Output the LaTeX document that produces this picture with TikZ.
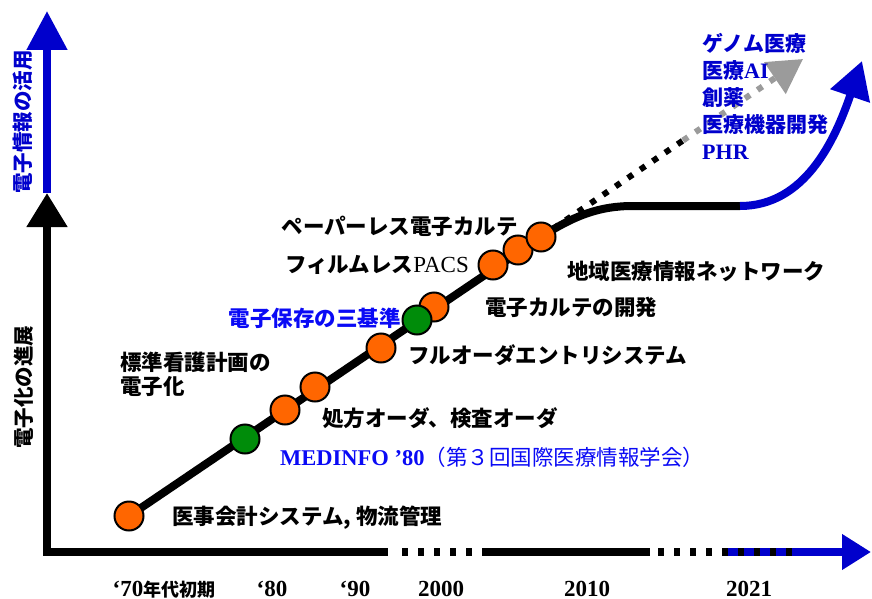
\documentclass[tikz,border=0pt]{standalone}
\usepackage{fontspec}
\setmainfont{Liberation Serif}
\newfontfamily\jp{Noto Sans CJK JP}
\usetikzlibrary{arrows.meta}
\definecolor{evorange}{HTML}{FF6600}
\definecolor{evgreen}{HTML}{008C0A}
\definecolor{axblue}{HTML}{0000CC}
\definecolor{lbblue}{HTML}{0A0AF5}
\definecolor{dotgray}{HTML}{9B9B9B}
\newcommand{\lblsize}{\fontsize{21.5}{24}\selectfont}
\begin{document}
\begin{tikzpicture}[x=1pt,y=-1pt,
  evt/.style={circle,draw=black,line width=2pt,fill=evorange,minimum size=29pt,inner sep=0pt},
  evtg/.style={evt,fill=evgreen},
  lab/.style={inner sep=0pt,font=\jp\bfseries\lblsize},
  axline/.style={line width=8pt},
  dotted8/.style={line width=8pt,dash pattern=on 6pt off 10pt},
  dotdiag/.style={line width=6pt,dash pattern=on 6pt off 9pt},
  ticklab/.style={inner sep=0pt,font=\rmfamily\bfseries\fontsize{23}{26}\selectfont},
  axlab/.style={rotate=90,inner sep=0pt,font=\jp\bfseries\fontsize{20.5}{22}\selectfont}
]
\useasboundingbox (0,0) rectangle (872,599);

% axes coordinates
\coordinate (corner) at (47,552);
\coordinate (ytip) at (47,193);
\coordinate (ytip2) at (47,11);
\coordinate (xa) at (388,552);
\coordinate (xb1) at (402,552);
\coordinate (xb2) at (472,552);
\coordinate (xc1) at (482,552);
\coordinate (xc2) at (650,552);
\coordinate (xd1) at (658,552);
\coordinate (xd2) at (792,552);
\coordinate (xe1) at (728,552);
\coordinate (xtip) at (871,552);

% y axis + first x segment
\draw[axline,black,line join=miter,{Triangle[length=34pt,width=39pt]}-] (ytip) -- (corner) -- (xa);
\draw[axline,axblue,-{Triangle[length=39pt,width=39pt]}] (ytip) -- (ytip2);
% x axis rest
\draw[dotted8,black] (xb1) -- (xb2);
\draw[axline,black] (xc1) -- (xc2);
\draw[axline,axblue,-{Triangle[length=29pt,width=34pt]}] (xe1) -- (xtip);
\draw[dotted8,black] (xd1) -- (xd2);

% axis labels
\node[axlab,text=axblue] (ylab2) at (23,122) {電子情報の活用};
\node[axlab,text=black] (ylab1) at (24,387) {電子化の進展};

% tick labels
\node[inner sep=0pt,anchor=base] (t70) at (164,596) {{\rmfamily\bfseries\fontsize{23}{26}\selectfont ‘70}{\jp\bfseries\fontsize{18}{20}\selectfont 年代初期}};
\node[ticklab,anchor=base] (t80) at (272,596) {‘80};
\node[ticklab,anchor=base] (t90) at (355,596) {‘90};
\node[ticklab,anchor=base] (t00) at (441,596) {2000};
\node[ticklab,anchor=base] (t10) at (587,596) {2010};
\node[ticklab,anchor=base] (t21) at (749,596) {2021};

% event positions
\coordinate (c1) at (129,516);
\coordinate (c2) at (245,439);
\coordinate (c3) at (285,410);
\coordinate (c4) at (315,387);
\coordinate (c5) at (381,348);
\coordinate (c6) at (417,320);
\coordinate (c7) at (434,307);
\coordinate (c8) at (493,265);
\coordinate (c9) at (518,250);
\coordinate (c10) at (541,237);
\coordinate (flat1) at (633,206);
\coordinate (flat2) at (740,206);
\coordinate (btip) at (862,61);
\coordinate (dmid) at (683,140.5);
\coordinate (gtip) at (803,59);

% main line
\draw[axline,black] (c1) -- (c10);
\draw[axline,black] (c10) .. controls (575,215) and (600,206) .. (flat1) -- (flat2);
\draw[axline,axblue,-{Triangle[length=37pt,width=40pt]}] (flat2) .. controls (805,206) and (835,140) .. (btip);
% dotted projection
\draw[dotdiag,black] (c10) -- (dmid);
\draw[dotdiag,dotgray,-{Triangle[length=34pt,width=37pt]}] (dmid) -- (gtip);

% event circles
\node[evt] (n1) at (c1) {};
\node[evtg] (n2) at (c2) {};
\node[evt] (n3) at (c3) {};
\node[evt] (n4) at (c4) {};
\node[evt] (n5) at (c5) {};
\node[evt] (n7) at (c7) {};
\node[evtg] (n6) at (c6) {};
\node[evt] (n9) at (c9) {};
\node[evt] (n8) at (c8) {};
\node[evt] (n10) at (c10) {};

% labels
\node[lab,anchor=west] (l1) at (172,518) {医事会計システム, 物流管理};
\node[inner sep=0pt,anchor=west,text=lbblue,font=\lblsize] (l2) at (280,457) {{\rmfamily\bfseries\fontsize{22.5}{24}\selectfont MEDINFO ’80}{\jp\mdseries （第３回国際医療情報学会）}};
\node[lab,anchor=west] (l4) at (322,418) {処方オーダ、検査オーダ};
\node[lab,anchor=west,align=left,font=\jp\bfseries\fontsize{21.5}{24}\selectfont] (l0) at (120,374) {標準看護計画の\\電子化};
\node[lab,anchor=west] (l5) at (408,355) {フルオーダエントリシステム};
\node[lab,anchor=east,text=lbblue] (l6) at (401,318) {電子保存の三基準};
\node[lab,anchor=west] (l7) at (485,307) {電子カルテの開発};
\node[lab,anchor=east] (l8) at (469,265) {フィルムレス{\rmfamily\mdseries\fontsize{23}{24}\selectfont PACS}};
\node[lab,anchor=east] (l10) at (518,226) {ペーパーレス電子カルテ};
\node[lab,anchor=west] (l11) at (567,271) {地域医療情報ネットワーク};
\node[lab,anchor=west,align=left,text=axblue,font=\jp\bfseries\fontsize{21}{27}\selectfont] (fut) at (702,96.5) {ゲノム医療\\医療{\rmfamily\fontsize{22}{27}\selectfont AI}\\創薬\\医療機器開発\\{\rmfamily\fontsize{22}{27}\selectfont PHR}};
\end{tikzpicture}
\end{document}
